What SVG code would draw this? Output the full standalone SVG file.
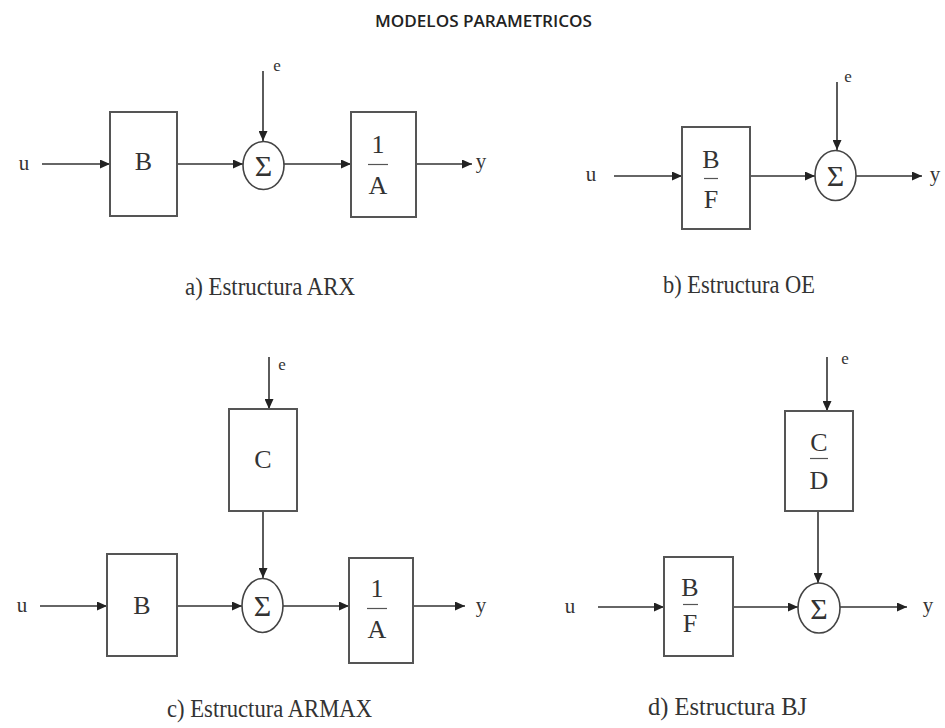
<svg xmlns="http://www.w3.org/2000/svg" width="945" height="728" viewBox="0 0 945 728">
<defs>
<marker id="ah" markerUnits="userSpaceOnUse" markerWidth="10" markerHeight="9" refX="10" refY="4.5" orient="auto">
<path d="M0,0 L10,4.5 L0,9 Z" fill="#222"/>
</marker>
<style>
.box{fill:#fff;stroke:#555;stroke-width:2}
.sum{fill:#fff;stroke:#444;stroke-width:1.6}
.ln{fill:none;stroke:#333;stroke-width:1.6}
.ar{fill:none;stroke:#333;stroke-width:1.6;marker-end:url(#ah)}
.fr{stroke:#555;stroke-width:1.2}
.t{font-family:"Liberation Serif",serif;fill:#333;text-anchor:middle}
.big{font-size:26px}
.sig{font-size:30px}
.sm{font-size:21px}
.es{font-size:17px}
.cap{font-family:"Liberation Serif",serif;fill:#333;font-size:25px}
.title{font-family:"Open Sans",sans-serif;font-size:16px;font-weight:600;fill:#222}
</style>
</defs>
<rect width="945" height="728" fill="#fff"/>
<text class="title" x="375" y="27" textLength="217" lengthAdjust="spacingAndGlyphs">MODELOS PARAMETRICOS</text>

<g id="connectors">
<line class="ar" x1="42" y1="164" x2="110" y2="164"/>
<line class="ar" x1="177" y1="164" x2="243" y2="164"/>
<line class="ar" x1="263" y1="71" x2="263" y2="141"/>
<line class="ar" x1="284" y1="164" x2="351" y2="164"/>
<line class="ar" x1="416" y1="164" x2="472" y2="164"/>
<line class="ar" x1="614" y1="176" x2="682" y2="176"/>
<line class="ar" x1="750" y1="176" x2="815" y2="176"/>
<line class="ar" x1="837" y1="82" x2="837" y2="150"/>
<line class="ar" x1="856" y1="176" x2="922" y2="176"/>
<line class="ar" x1="269" y1="357" x2="269" y2="409"/>
<line class="ar" x1="263" y1="511" x2="263" y2="578"/>
<line class="ar" x1="40" y1="606" x2="107" y2="606"/>
<line class="ar" x1="177" y1="606" x2="242" y2="606"/>
<line class="ar" x1="283" y1="606" x2="349" y2="606"/>
<line class="ar" x1="413" y1="606" x2="465" y2="606"/>
<line class="ar" x1="827" y1="357" x2="827" y2="411"/>
<line class="ar" x1="818" y1="511" x2="818" y2="583"/>
<line class="ar" x1="598" y1="607" x2="664" y2="607"/>
<line class="ar" x1="733" y1="607" x2="798" y2="607"/>
<line class="ar" x1="840" y1="607" x2="907" y2="607"/>
</g>

<g id="arx-u"><text class="t sm" x="24" y="170">u</text></g>
<g id="arx-B"><rect class="box" x="110" y="112" width="67" height="104"/><text class="t big" x="143.5" y="170">B</text></g>
<g id="arx-e"><text class="t es" x="277" y="71">e</text></g>
<g id="arx-sum"><ellipse class="sum" cx="263.5" cy="165.5" rx="20.5" ry="24"/><text class="t sig" x="263.5" y="176">Σ</text></g>
<g id="arx-A"><rect class="box" x="351" y="112" width="65" height="105"/><text class="t big" x="378" y="153">1</text><line class="fr" x1="368" y1="164.5" x2="388" y2="164.5"/><text class="t big" x="378" y="194">A</text></g>
<g id="arx-y"><text class="t sm" x="481" y="168">y</text></g>
<g id="arx-cap"><text class="cap" x="185" y="295" textLength="170" lengthAdjust="spacingAndGlyphs">a) Estructura ARX</text></g>

<g id="oe-u"><text class="t sm" x="591" y="181">u</text></g>
<g id="oe-BF"><rect class="box" x="682" y="127" width="68" height="102"/><text class="t big" x="711" y="168">B</text><line class="fr" x1="704" y1="178.5" x2="718" y2="178.5"/><text class="t big" x="711" y="208">F</text></g>
<g id="oe-e"><text class="t es" x="848" y="82">e</text></g>
<g id="oe-sum"><ellipse class="sum" cx="835.5" cy="175.5" rx="20.5" ry="25"/><text class="t sig" x="835.5" y="186">Σ</text></g>
<g id="oe-y"><text class="t sm" x="935" y="181">y</text></g>
<g id="oe-cap"><text class="cap" x="663" y="293" textLength="152" lengthAdjust="spacingAndGlyphs">b) Estructura OE</text></g>

<g id="armax-e"><text class="t es" x="282" y="370">e</text></g>
<g id="armax-C"><rect class="box" x="229" y="409" width="68" height="102"/><text class="t big" x="263" y="468">C</text></g>
<g id="armax-u"><text class="t sm" x="22" y="612">u</text></g>
<g id="armax-B"><rect class="box" x="107" y="554" width="70" height="102"/><text class="t big" x="142" y="614">B</text></g>
<g id="armax-sum"><ellipse class="sum" cx="262.5" cy="605.5" rx="20.5" ry="27"/><text class="t sig" x="262.5" y="616">Σ</text></g>
<g id="armax-A"><rect class="box" x="349" y="558" width="64" height="105"/><text class="t big" x="377" y="597">1</text><line class="fr" x1="367" y1="608.5" x2="387" y2="608.5"/><text class="t big" x="377" y="638">A</text></g>
<g id="armax-y"><text class="t sm" x="481" y="612">y</text></g>
<g id="armax-cap"><text class="cap" x="167" y="717" textLength="205" lengthAdjust="spacingAndGlyphs">c) Estructura ARMAX</text></g>

<g id="bj-e"><text class="t es" x="845" y="364">e</text></g>
<g id="bj-CD"><rect class="box" x="785" y="411" width="68" height="100"/><text class="t big" x="819" y="451">C</text><line class="fr" x1="810" y1="458.5" x2="828" y2="458.5"/><text class="t big" x="819" y="489">D</text></g>
<g id="bj-u"><text class="t sm" x="570" y="613">u</text></g>
<g id="bj-BF"><rect class="box" x="664" y="557" width="69" height="99"/><text class="t big" x="690" y="596">B</text><line class="fr" x1="683" y1="604.5" x2="698" y2="604.5"/><text class="t big" x="690" y="632">F</text></g>
<g id="bj-sum"><ellipse class="sum" cx="819" cy="608" rx="21" ry="25"/><text class="t sig" x="819" y="619">Σ</text></g>
<g id="bj-y"><text class="t sm" x="928" y="612">y</text></g>
<g id="bj-cap"><text class="cap" x="648" y="715" textLength="159" lengthAdjust="spacingAndGlyphs">d) Estructura BJ</text></g>
</svg>
